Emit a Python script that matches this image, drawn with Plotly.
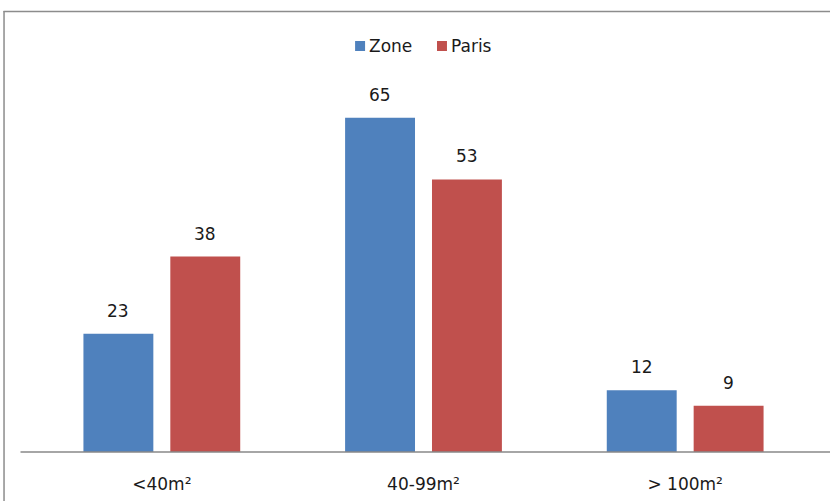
import plotly.graph_objects as go

categories = ["<40m²", "40-99m²", "> 100m²"]
zone = [23, 65, 12]
paris = [38, 53, 9]
series_names = ["Zone", "Paris"]
colors = ["#4F81BD", "#C0504D"]

W, H = 830, 501
L, R, T, B = 30.5, 13.5, 92, 49
pw = W - L - R
ph = H - T - B
FONT = "DejaVu Sans"
TXT = "#1a1a1a"

bar_w = 70 / 262
offsets = [-78.5 / 262, 8.5 / 262]


def px_x(p):
    return (p - L) / pw


def px_y(p):
    return (H - B - p) / ph


fig = go.Figure()
for name, vals, col, off in zip(series_names, [zone, paris], colors, offsets):
    fig.add_trace(go.Bar(
        x=categories, y=vals, name=name, marker=dict(color=col, line=dict(width=0)),
        width=bar_w, offset=off, showlegend=False,
    ))
    for c, v in zip(categories, vals):
        fig.add_annotation(
            x=c, y=v, text=str(v), showarrow=False, xanchor="center", yanchor="bottom",
            xshift=(off + bar_w / 2) * 262, yshift=11,
            font=dict(family=FONT, size=17, color=TXT),
        )

# legend (drawn manually to match compact spacing)
legend_x = [355, 437]
shapes = []
for name, col, lx in zip(series_names, colors, legend_x):
    shapes.append(dict(type="rect", xref="paper", yref="paper",
                       x0=px_x(lx), x1=px_x(lx + 10), y0=px_y(51), y1=px_y(41),
                       fillcolor=col, line=dict(width=0)))
    fig.add_annotation(x=px_x(lx + 12), y=px_y(46), xref="paper", yref="paper", text=name,
                       showarrow=False, xanchor="left", yanchor="middle",
                       font=dict(family=FONT, size=17, color=TXT))

shapes += [
    dict(type="line", xref="paper", yref="paper", x0=px_x(20), x1=px_x(832), y0=px_y(452), y1=px_y(452),
         line=dict(color="#888888", width=1.5)),
    dict(type="line", xref="paper", yref="paper", x0=px_x(3), x1=px_x(832), y0=px_y(11.5), y1=px_y(11.5),
         line=dict(color="#8c8c8c", width=1.5)),
    dict(type="line", xref="paper", yref="paper", x0=px_x(3.5), x1=px_x(3.5), y0=px_y(11), y1=px_y(503),
         line=dict(color="#8c8c8c", width=1.5)),
]

fig.update_layout(
    width=W, height=H,
    margin=dict(l=L, r=R, t=T, b=B, autoexpand=False),
    paper_bgcolor="white", plot_bgcolor="white",
    barmode="overlay",
    font=dict(family=FONT, size=17, color=TXT),
    xaxis=dict(range=[-0.5, 2.5], showgrid=False, showline=False, ticks="", ticklabelstandoff=20,
               automargin=False,
               tickfont=dict(family=FONT, size=17, color=TXT), fixedrange=True),
    yaxis=dict(range=[0, 70], visible=False, fixedrange=True, automargin=False),
    shapes=shapes,
    showlegend=False,
)

fig.write_html("out.html")
